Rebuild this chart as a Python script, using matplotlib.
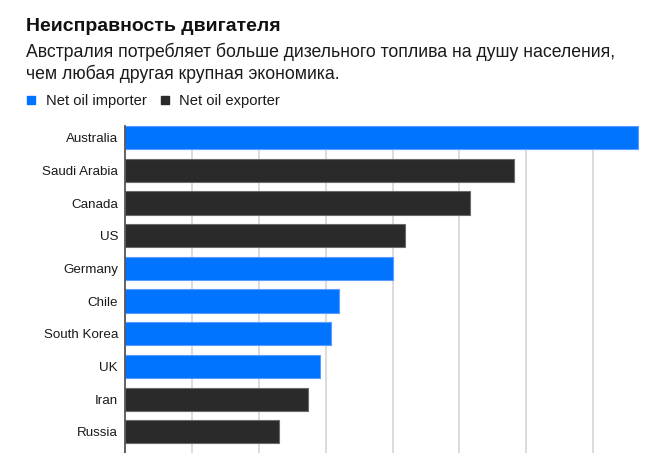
import matplotlib.pyplot as plt
from matplotlib.patches import Rectangle

plt.rcParams['font.family'] = ['Liberation Sans', 'DejaVu Sans']

# data (gridline spacing = 1 unit)
countries = ['Australia', 'Saudi Arabia', 'Canada', 'US', 'Germany',
             'Chile', 'South Korea', 'UK', 'Iran', 'Russia']
values = [7.67, 5.81, 5.16, 4.19, 4.01, 3.20, 3.08, 2.91, 2.73, 2.30]
importer = [True, False, False, False, True, True, True, True, False, False]

title = 'Неисправность двигателя'
subtitle_lines = ['Австралия потребляет больше дизельного топлива на душу населения,',
                  'чем любая другая крупная экономика.']
legend_labels = ['Net oil importer', 'Net oil exporter']

BLUE = '#0073ff'
DARK = '#2a2a2a'
W, H = 658, 453


def fx(px):
    return px / W


def fy(py):
    return 1 - py / H


fig = plt.figure(figsize=(W / 100, H / 100), dpi=100)
ax = fig.add_axes([fx(125), 0, fx(658) - fx(125), fy(126)])

colors = [BLUE if imp else DARK for imp in importer]
edges = ['#5a9cff' if imp else '#6a6a6a' for imp in importer]
ypos = list(range(len(countries)))
ax.barh(ypos, values, height=0.71, color=colors, edgecolor=edges,
        linewidth=0.8, zorder=3)

ax.set_xlim(0, 7.97)
ax.set_ylim(9.65, -0.36)
ax.set_yticks(ypos)
ax.set_yticklabels(countries, fontsize=9.6, color='#1a1a1a')
ax.set_xticks([1, 2, 3, 4, 5, 6, 7])
ax.tick_params(axis='x', length=0, labelbottom=False)
ax.tick_params(axis='y', length=0, pad=5)
ax.grid(axis='x', color='#d6d6d6', linewidth=1.2)
ax.set_axisbelow(True)
for s in ['top', 'right', 'bottom']:
    ax.spines[s].set_visible(False)
ax.spines['left'].set_color('#555555')
ax.spines['left'].set_linewidth(1.3)
ax.spines['left'].set_zorder(4)

# headline and subtitle
fig.text(fx(26), fy(31), title, fontsize=14, fontweight='bold',
         color='#111111', va='baseline', ha='left')
for i, line in enumerate(subtitle_lines):
    fig.text(fx(26), fy(56.7 + 22.4 * i), line, fontsize=12.7,
             color='#1a1a1a', va='baseline', ha='left')

# legend
legend_x = [27.3, 160.7]
for lx, lab, col in zip(legend_x, legend_labels, [BLUE, DARK]):
    fig.patches.append(Rectangle((fx(lx), fy(104)), fx(8), 8 / H,
                                 transform=fig.transFigure, color=col))
    fig.text(fx(lx + 18.4), fy(105), lab, fontsize=10.6, color='#1a1a1a',
             va='baseline', ha='left')

fig.savefig('out.png', dpi=100)
